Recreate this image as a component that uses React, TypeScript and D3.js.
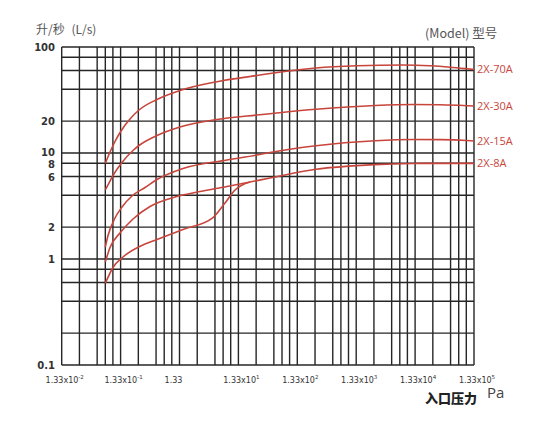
import * as d3 from "d3";

// pressure axis: 1.33 x 10^k Pa
const pressureDecades = [-2, -1, 0, 1, 2, 3, 4, 5];
const gridMultipliers = [1, 2, 4, 5.5, 7.4];
const speedGrid = [0.1, 0.2, 0.4, 0.6, 0.8, 1, 2, 4, 6, 8, 10, 20, 40, 60, 80, 100];
const speedLabels = [100, 20, 10, 8, 6, 2, 1, 0.1];

// [pressure Pa, pumping speed L/s]
const curve70A = [
  [0.0732, 7.99], [0.0879, 10.22], [0.1069, 12.84], [0.1351, 16.13], [0.192, 20.93],
  [0.273, 25.45], [0.552, 31.97], [1.357, 38.87], [5.76, 47.07], [27.5, 53.84],
  [45.8, 56.23], [276, 63.38], [1372, 66.47], [8289, 67.64], [23820, 66.47],
  [52050, 64.48], [101200, 62.28], [133000, 61.34],
];
const curve30A = [
  [0.0732, 4.48], [0.0879, 5.44], [0.0988, 6.13], [0.138, 8.05], [0.216, 10.56],
  [0.273, 11.77], [0.552, 14.63], [1.357, 17.59], [5.76, 20.7], [27.5, 22.83],
  [45.8, 23.49], [276, 25.84], [2774, 28.06], [12250, 28.68], [35200, 28.49],
  [101200, 27.94], [133000, 27.76],
];
const curve15A = [
  [0.0732, 1.298], [0.0813, 1.666], [0.1069, 2.437], [0.1405, 3.095], [0.2076, 3.93],
  [0.3453, 4.727], [0.552, 5.623], [1.525, 7.142], [8.52, 8.59], [27.5, 9.57],
  [45.8, 10.11], [276, 11.72], [2774, 13.06], [12250, 13.41], [35200, 13.38],
  [101200, 13.12], [133000, 12.98],
];
const curve8A = [
  [0.0732, 0.937], [0.0879, 1.284], [0.1299, 1.759], [0.216, 2.384], [0.4197, 3.128],
  [1.115, 3.845], [2.963, 4.334], [8.52, 4.831], [20.9, 5.325], [45.8, 5.81],
  [276, 7.018], [2774, 7.775], [12250, 7.962], [35200, 7.99], [133000, 7.99],
];
// lower branch that runs into the 2X-8A curve
const curve8Abranch = [
  [0.0732, 0.59], [0.0988, 0.8315], [0.146, 1.044], [0.3453, 1.385], [0.552, 1.528],
  [1.525, 1.898], [4.93, 2.463], [7.88, 3.376], [11.65, 4.477], [20.9, 5.325],
];

const models = [
  { name: "2X-70A", points: curve70A },
  { name: "2X-30A", points: curve30A },
  { name: "2X-15A", points: curve15A },
  { name: "2X-8A", points: curve8A },
];
const branches = [curve8Abranch];

const W = 536;
const H = 423;
const left = 61.7;
const right = 474;
const top = 47;
const bottom = 365;
const red = "#c8453c";
const gridColor = "#262626";
// small vertical nudges so the crowded 10 / 8 labels don't collide
const labelNudge: Record<string, number> = { "10": -1, "8": 1.2, "6": 1 };

export default function App() {
  const x = d3.scaleLog().domain([0.0133, 133000]).range([left, right]);
  const y = d3.scaleLog().domain([0.1, 100]).range([bottom, top]);

  const line = d3
    .line<number[]>()
    .x((d) => x(d[0]))
    .y((d) => y(d[1]))
    .curve(d3.curveMonotoneX);

  const vLines: number[] = [];
  pressureDecades.forEach((k) => {
    const base = 1.33 * Math.pow(10, k);
    if (k === 5) vLines.push(base);
    else gridMultipliers.forEach((m) => vLines.push(base * m));
  });

  return (
    <svg width={W} height={H} style={{ display: "block" }}>
      <style>{`body{margin:0}`}</style>
      <rect width={W} height={H} fill="#fff" />

      <g stroke={gridColor} strokeWidth={1.4}>
        {vLines.map((p, i) => (
          <line key={"v" + i} x1={x(p)} x2={x(p)} y1={top} y2={bottom} />
        ))}
        {speedGrid.map((s, i) => (
          <line key={"h" + i} x1={left} x2={right} y1={y(s)} y2={y(s)} />
        ))}
      </g>

      <g fontFamily="'DejaVu Sans', sans-serif" fontWeight="bold" fontSize={10} fill="#333" textAnchor="end">
        {speedLabels.map((s) => (
          <text key={s} x={55} y={y(s) + (labelNudge[String(s)] ?? 0)} dy="0.36em">
            {s}
          </text>
        ))}
      </g>

      <g fontFamily="'DejaVu Sans', sans-serif" fontSize={8} fill="#333" textAnchor="middle">
        {pressureDecades.map((k) => (
          <text key={k} x={x(1.33 * Math.pow(10, k)) + (k === 0 ? -6 : 3)} y={383}>
            {k === 0 ? (
              "1.33"
            ) : (
              <>
                1.33x10
                <tspan fontSize={5.5} dy={-4}>
                  {k}
                </tspan>
              </>
            )}
          </text>
        ))}
      </g>

      <g fill="none" stroke={red} strokeWidth={1.6}>
        {models.map((m) => (
          <path key={m.name} d={line(m.points) ?? ""} />
        ))}
        {branches.map((b, i) => (
          <path key={"b" + i} d={line(b) ?? ""} />
        ))}
      </g>

      <g fontFamily="'Open Sans', sans-serif" fontSize={11} fill={red}>
        {models.map((m) => {
          const last = m.points[m.points.length - 1];
          return (
            <text key={m.name} x={x(last[0]) + 3} y={y(last[1])} dy="0.36em">
              {m.name}
            </text>
          );
        })}
      </g>

      <text x={36} y={34} fontFamily="'Noto Sans CJK SC', sans-serif" fontSize={12} fill="#555">
        升/秒 <tspan dx={4}>(L/s)</tspan>
      </text>
      <text x={425} y={38} fontFamily="'Noto Sans CJK SC', sans-serif" fontSize={12.5} fill="#555">
        (Model) 型号
      </text>
      <text x={425} y={403} fontFamily="'Noto Sans CJK SC', sans-serif" fontWeight={900} fontSize={13} fill="#222">
        入口压力
      </text>
      <text x={487} y={398} fontFamily="'Open Sans', sans-serif" fontSize={15} fill="#444">
        Pa
      </text>
    </svg>
  );
}
